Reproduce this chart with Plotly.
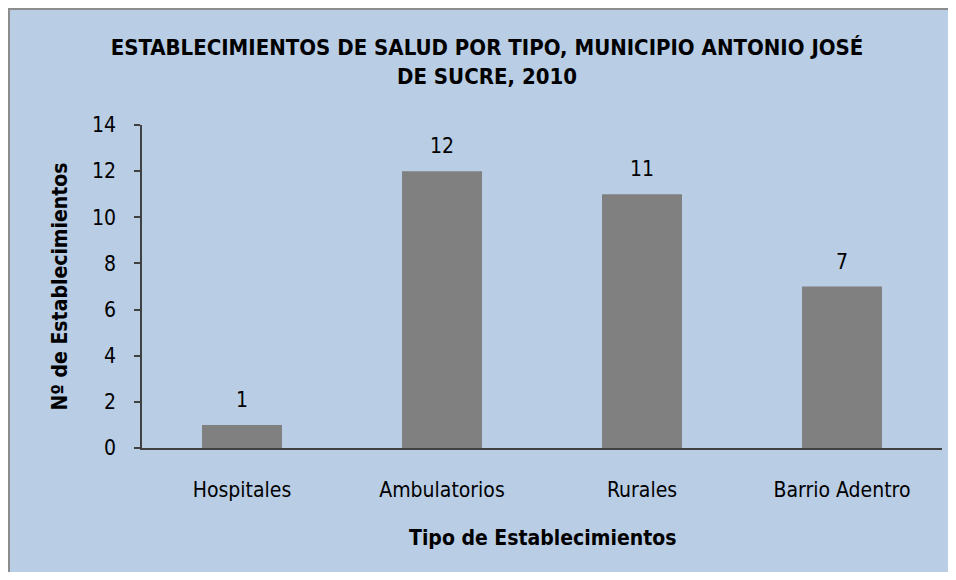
import plotly.graph_objects as go

# data
tipos = ["Hospitales", "Ambulatorios", "Rurales", "Barrio Adentro"]
cantidad = [1, 12, 11, 7]
y_ticks = [0, 2, 4, 6, 8, 10, 12, 14]

FONT = "Liberation Sans Narrow, Arial Narrow, DejaVu Sans Condensed, Arial, sans-serif"
BG = "#b9cde5"
BORDER = "#8c8c8c"

# page has an 8px body margin, keep the figure inside the window (no scrollbars)
W, H = 940, 564
ML, MR, MT, MB = 134, 6, 117, 124
pw, ph = W - ML - MR, H - MT - MB


def px_x(px):
    return (px - ML) / pw


def px_y(py):
    return (H - MB - py) / ph


fig = go.Figure()
fig.add_trace(go.Bar(x=tipos, y=cantidad, marker=dict(color="#808080", line=dict(width=0)),
                     width=0.4, hoverinfo="x+y"))

# value labels above bars
for t, v in zip(tipos, cantidad):
    fig.add_annotation(x=t, y=v, text=str(v), showarrow=False, yanchor="middle", yshift=25,
                       font=dict(family=FONT, size=21, color="#000"))

# axis titles
fig.add_annotation(xref="paper", yref="paper", x=0.5, y=px_y(530), showarrow=False,
                   xanchor="center", yanchor="middle",
                   text="<b>Tipo de Establecimientos</b>", font=dict(family=FONT, size=21, color="#000"))
fig.add_annotation(xref="paper", yref="paper", x=px_x(51), y=0.5, showarrow=False,
                   xanchor="center", yanchor="middle", textangle=-90,
                   text="<b>Nº de Establecimientos</b>", font=dict(family=FONT, size=21, color="#000"))

# chart frame: grey border only on top and left (rest is cropped in the original)
fig.add_shape(type="line", xref="paper", yref="paper",
              x0=px_x(1), x1=px_x(1), y0=px_y(0), y1=px_y(H), line=dict(color=BORDER, width=2))
fig.add_shape(type="line", xref="paper", yref="paper",
              x0=px_x(0), x1=px_x(W), y0=px_y(1), y1=px_y(1), line=dict(color=BORDER, width=2))

fig.update_layout(
    width=W, height=H,
    margin=dict(l=ML, r=MR, t=MT, b=MB),
    paper_bgcolor=BG, plot_bgcolor=BG,
    showlegend=False,
    font=dict(family=FONT, color="#000"),
    title=dict(text="<b>ESTABLECIMIENTOS DE SALUD POR TIPO, MUNICIPIO ANTONIO JOSÉ<br>DE SUCRE, 2010</b>",
               x=479 / W, xanchor="center", y=1 - 47 / H, yanchor="middle",
               font=dict(family=FONT, size=22, color="#000")),
)
fig.update_xaxes(showline=True, linecolor="#404040", linewidth=1.5, ticks="", showgrid=False,
                 tickfont=dict(family=FONT, size=21, color="#000"), ticklabelstandoff=22)
fig.update_yaxes(range=[0, 14], tickvals=y_ticks, showline=True, linecolor="#404040", linewidth=1.5,
                 ticks="outside", ticklen=6, tickcolor="#404040", tickwidth=1.5, showgrid=False,
                 zeroline=False, ticklabelstandoff=14,
                 tickfont=dict(family=FONT, size=21, color="#000"))

fig.write_html("out.html")
